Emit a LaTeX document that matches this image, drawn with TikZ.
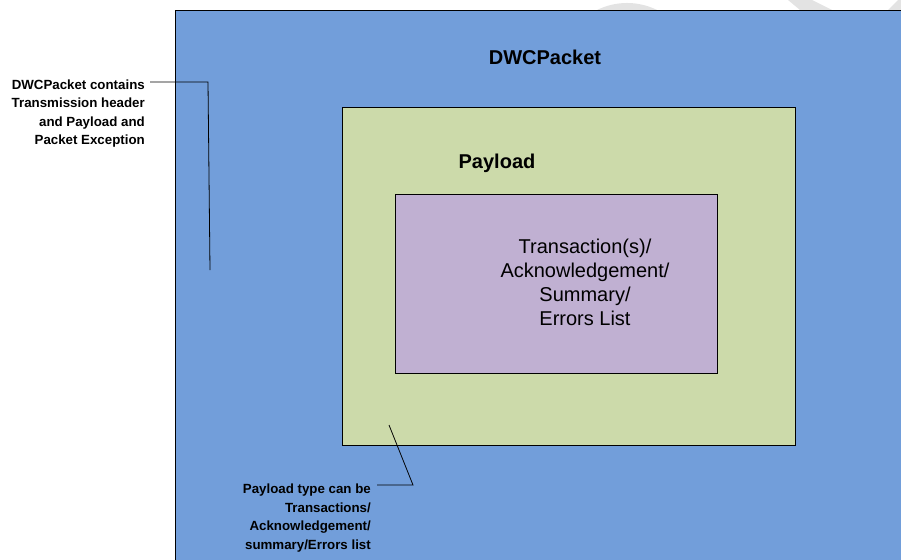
\documentclass[tikz,border=0pt]{standalone}
\usepackage{fontspec}
\setmainfont{Liberation Sans}
\begin{document}
\begin{tikzpicture}[x=1pt,y=-1pt,
  box/.style={draw=black,line width=0.8pt,inner sep=0pt,anchor=north west},
  callout/.style={font=\bfseries\fontsize{13.3}{18.5}\selectfont,align=right,inner sep=0pt},
  leader/.style={draw=black,line width=0.8pt},
  title/.style={font=\bfseries\fontsize{20}{24}\selectfont,inner sep=0pt}]
\useasboundingbox (0,0) rectangle (901,559);
\clip (0,0) rectangle (901,559);
% faint background decorations
\fill[gray!22] (597,10) arc[start angle=243.7,end angle=296.3,radius=67.8] -- cycle;
\fill[gray!22] (788,0) -- (812,0) -- (832,10) -- (800,10) -- cycle;
\fill[gray!22] (888,10) -- (898,0) -- (901,0) -- (901,10) -- cycle;
% boxes
\node[box,fill={rgb,255:red,114;green,158;blue,218},minimum width=760,minimum height=580] (packet) at (175,10) {};
\node[box,fill={rgb,255:red,204;green,218;blue,170},minimum width=453,minimum height=338] (payload) at (342,107) {};
\node[box,fill={rgb,255:red,192;green,176;blue,210},minimum width=322,minimum height=179] (content) at (395,194) {};
% titles
\node[title] (ptitle) at (545,57) {DWCPacket};
\node[title] (pltitle) at (497,163) {Payload};
\node[font=\fontsize{20}{24}\selectfont,align=center,inner sep=0pt] (ctext) at (585,282)
  {Transaction(s)/\\Acknowledgement/\\Summary/\\Errors List};
% callouts
\node[callout,anchor=north east] (c1) at (145,79.3) {DWCPacket contains\\Transmission header\\and Payload and\\Packet Exception};
\coordinate (c1a) at (150,82);
\coordinate (c1b) at (208,82);
\coordinate (c1c) at (210,270);
\draw[leader] (c1a) -- (c1b) -- (c1c);
\node[callout,anchor=north east] (c2) at (371,484) {Payload type can be\\Transactions/\\Acknowledgement/\\summary/Errors list};
\coordinate (c2a) at (377,485);
\coordinate (c2b) at (413,485);
\coordinate (c2c) at (389,425);
\draw[leader] (c2a) -- (c2b) -- (c2c);
\end{tikzpicture}
\end{document}
